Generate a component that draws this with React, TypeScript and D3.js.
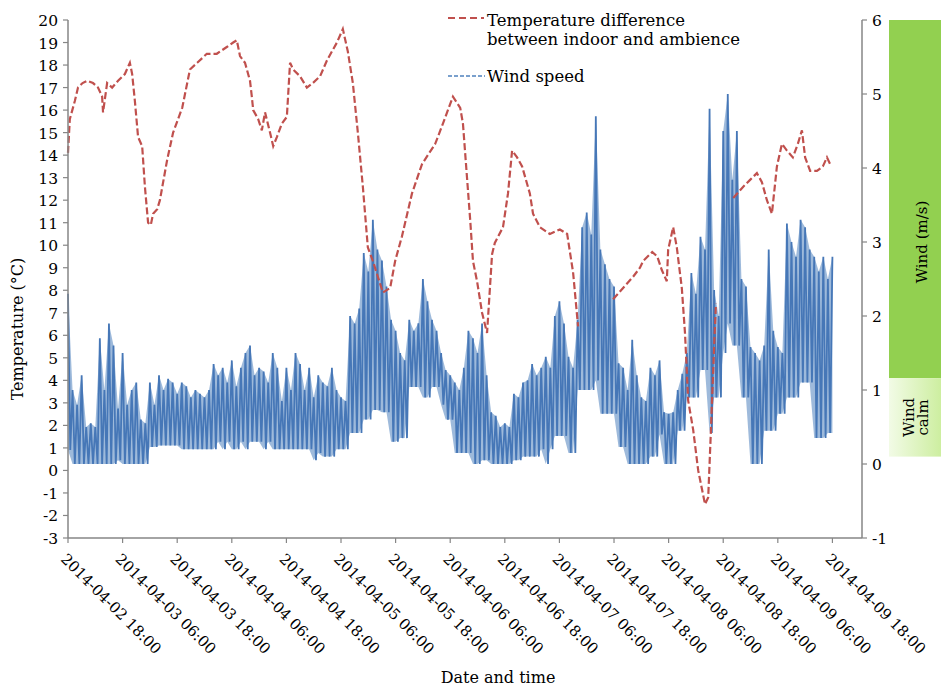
import React from 'react';
import * as d3 from 'd3';

// time origin of the record; every series below is keyed by hours after it
const START_LABEL = '2014-04-02 18:00';

const xTickLabels = [
  '2014-04-02 18:00', '2014-04-03 06:00', '2014-04-03 18:00', '2014-04-04 06:00',
  '2014-04-04 18:00', '2014-04-05 06:00', '2014-04-05 18:00', '2014-04-06 06:00',
  '2014-04-06 18:00', '2014-04-07 06:00', '2014-04-07 18:00', '2014-04-08 06:00',
  '2014-04-08 18:00', '2014-04-09 06:00', '2014-04-09 18:00',
];

const tempTicks = [-3, -2, -1, 0, 1, 2, 3, 4, 5, 6, 7, 8, 9, 10, 11, 12, 13, 14, 15, 16, 17, 18, 19, 20];
const windTicks = [-1, 0, 1, 2, 3, 4, 5, 6];

// [hours after start, indoor-ambient temperature difference °C]; NaN = no data
const tempDiff: [number, number][] = [
  [0, 14.1], [0.4, 15.6], [1.5, 16.4], [2.2, 17.0], [3.2, 17.2], [4.2, 17.3], [5.5, 17.2], [6.6, 17.0],
  [7.5, 16.6], [7.7, 15.9], [8.6, 17.2], [9.7, 17.0], [11.0, 17.3], [12.5, 17.6], [13.6, 18.1], [14.1, 17.6],
  [14.7, 16.4], [15.4, 14.8], [16.3, 14.4], [16.9, 12.6], [17.6, 11.0], [18.2, 10.9], [18.7, 11.4], [19.6, 11.6],
  [20.2, 12.0], [21.8, 13.8], [23.1, 15.0], [25.1, 16.1], [26.8, 17.8], [28.4, 18.1], [30.5, 18.5], [32.7, 18.5],
  [34.9, 18.8], [36.3, 19.0], [37.1, 19.1], [37.8, 18.4], [38.9, 18.1], [40.0, 17.3], [40.4, 16.6], [40.7, 16.0],
  [41.8, 15.6], [42.6, 15.1], [43.3, 15.9], [44.4, 15.0], [45.1, 14.4], [45.9, 14.8], [47.0, 15.4], [48.1, 15.7],
  [48.8, 18.1], [49.5, 17.8], [51.0, 17.5], [52.5, 17.0], [53.8, 17.2], [55.4, 17.5], [56.9, 18.2], [59.1, 19.0],
  [60.4, 19.6], [61.5, 18.6], [62.6, 17.2], [63.7, 15.0], [64.8, 12.6], [65.9, 9.9], [67.0, 9.3], [69.2, 7.9],
  [70.8, 8.1], [71.9, 9.3], [73.4, 10.4], [75.6, 12.3], [77.8, 13.6], [80.7, 14.5], [82.4, 15.4], [84.6, 16.6],
  [86.2, 16.1], [86.8, 15.4], [88.4, 11.1], [89.0, 9.3], [89.9, 8.4], [91.0, 7.0], [92.1, 6.1], [93.2, 9.6],
  [93.8, 10.1], [95.6, 10.8], [96.7, 12.3], [97.6, 14.2], [98.7, 13.9], [99.8, 13.5], [101.5, 12.3], [102.2, 11.4],
  [103.7, 10.8], [105.9, 10.5], [108.1, 10.7], [109.7, 10.5], [111.0, 8.8], [112.1, 6.4], [112.2, NaN],
  [119.8, 7.6], [122.0, 8.1], [124.2, 8.6], [125.7, 9.0], [126.4, 9.3], [128.4, 9.7], [129.5, 9.5], [130.5, 8.9],
  [131.6, 8.4], [131.9, 9.8], [133.0, 10.8], [133.8, 9.9], [134.9, 8.1], [135.6, 6.1], [136.3, 3.1], [137.4, 1.8],
  [138.5, 0.0], [140.0, -1.5], [140.7, -1.2], [141.3, 1.8], [142.0, 5.5], [142.4, 7.4], [142.5, NaN],
  [146.2, 12.1], [148.4, 12.6], [149.9, 12.9], [151.4, 13.2], [152.5, 12.8], [153.6, 12.0], [154.7, 11.4],
  [155.8, 13.5], [156.9, 14.5], [158.0, 14.2], [159.3, 13.9], [160.4, 14.5], [161.3, 15.1], [162.0, 13.9],
  [163.1, 13.3], [164.6, 13.3], [165.9, 13.5], [166.8, 13.9], [167.5, 13.6],
];

// hourly wind speed envelope (m/s), hour 0 .. 168
const windHigh = [
  2.3, 1.0, 0.8, 1.2, 0.5, 0.55, 0.5, 1.7, 1.0, 1.9, 1.6, 0.75,
  1.5, 0.8, 1.0, 1.1, 0.6, 0.55, 1.1, 0.8, 1.2, 1.0, 1.15, 1.1,
  0.95, 1.1, 1.05, 0.9, 1.0, 0.95, 0.9, 1.0, 1.35, 1.2, 1.3, 1.1,
  1.4, 1.05, 1.3, 1.5, 1.6, 1.2, 1.3, 1.25, 1.1, 1.5, 1.3, 0.85,
  1.3, 1.0, 1.5, 1.35, 1.0, 1.3, 0.9, 1.2, 1.1, 1.05, 1.3, 1.0,
  0.9, 0.85, 2.0, 1.9, 2.1, 2.85, 2.6, 3.3, 2.9, 2.75, 2.4, 1.95,
  1.8, 1.5, 1.4, 1.95, 1.8, 1.9, 2.5, 2.2, 1.95, 1.8, 1.5, 1.27,
  1.2, 1.1, 1.0, 1.3, 1.8, 1.7, 1.5, 1.9, 1.2, 0.7, 0.65, 0.5,
  0.55, 0.5, 0.95, 0.9, 1.1, 1.13, 1.35, 1.2, 1.3, 1.45, 1.3, 2.0,
  2.2, 1.9, 1.45, 1.3, 1.95, 3.2, 3.4, 3.1, 4.7, 2.9, 2.7, 2.5,
  2.4, 1.36, 1.3, 1.0, 1.68, 1.2, 0.9, 0.85, 1.3, 1.2, 1.4, 0.7,
  0.68, 0.7, 1.0, 1.22, 1.5, 2.58, 2.3, 3.07, 2.9, 4.8, 2.35, 2.0,
  4.5, 5.0, 3.84, 4.5, 2.5, 2.4, 1.58, 1.5, 1.4, 1.6, 2.9, 1.8,
  1.58, 1.5, 3.25, 3.0, 2.8, 3.3, 3.2, 2.9, 2.8, 2.6, 2.8, 2.5,
  2.8,
];

const windLow = [
  0.19, 0.0, 0.0, 0.0, 0.0, 0.0, 0.0, 0.0, 0.0, 0.0, 0.0, 0.05,
  0.0, 0.0, 0.0, 0.0, 0.0, 0.0, 0.23, 0.23, 0.25, 0.25, 0.25, 0.25,
  0.25, 0.2, 0.2, 0.2, 0.2, 0.2, 0.2, 0.2, 0.2, 0.3, 0.2, 0.3,
  0.2, 0.2, 0.3, 0.2, 0.3, 0.3, 0.3, 0.2, 0.3, 0.2, 0.2, 0.2,
  0.2, 0.2, 0.2, 0.2, 0.2, 0.2, 0.05, 0.15, 0.1, 0.1, 0.1, 0.2,
  0.2, 0.2, 0.42, 0.42, 0.42, 0.6, 0.6, 0.73, 0.73, 0.7, 0.7, 0.3,
  0.3, 0.35, 0.35, 1.04, 1.04, 1.04, 0.9, 0.9, 1.04, 1.04, 0.8, 0.6,
  0.6, 0.15, 0.15, 0.15, 0.15, 0.0, 0.0, 0.05, 0.05, 0.0, 0.0, 0.0,
  0.0, 0.0, 0.05, 0.05, 0.1, 0.1, 0.1, 0.1, 0.2, 0.0, 0.2, 0.38,
  0.38, 0.38, 0.15, 0.15, 1.0, 1.0, 1.0, 1.0, 1.13, 0.68, 0.68, 0.68,
  0.68, 0.23, 0.23, 0.0, 0.0, 0.0, 0.0, 0.0, 0.1, 0.1, 0.4, 0.0,
  0.0, 0.0, 0.45, 0.45, 0.9, 0.9, 0.9, 1.27, 1.27, 0.42, 0.9, 0.9,
  1.5, 1.9, 1.6, 1.6, 0.9, 0.9, 0.0, 0.0, 0.0, 0.45, 0.45, 0.45,
  0.68, 0.68, 0.9, 0.9, 0.9, 1.1, 1.1, 1.1, 0.35, 0.35, 0.35, 0.42,
  0.42,
];

// wind speed bands shown on the right (m/s)
const windBand = 1.16;
const windCalmFloor = 0.1;

const RED = '#C0504D';
const BLUE = '#4F81BD';
const AXIS = '#868686';
const FONT = '"DejaVu Serif", "Liberation Serif", serif';

const parse = d3.timeParse('%Y-%m-%d %H:%M');
const start = parse(START_LABEL) as Date;
const at = (h: number) => new Date(start.getTime() + h * 3600e3);

const W = 941;
const H = 690;
const left = 68;
const right = 862;
const top = 20;
const bottom = 538;

const App: React.FC = () => {
  const x = d3.scaleTime().domain([start, at(174.5)]).range([left, right]);
  const yT = d3.scaleLinear().domain([-3, 20]).range([bottom, top]);
  const yW = d3.scaleLinear().domain([-1, 6]).range([bottom, top]);

  const tempLine = d3.line<[number, number]>()
    .defined(d => !Number.isNaN(d[1]))
    .x(d => x(at(d[0])))
    .y(d => yT(d[1]));

  // envelope of the hourly wind record
  const windArea = d3.area<number>()
    .x((_d, i) => x(at(i)))
    .y0((_d, i) => yW(windLow[i]))
    .y1(d => yW(d));

  // trace swinging between the hourly highs and lows for texture
  const windPts: [number, number][] = [];
  windHigh.forEach((hi, i) => {
    windPts.push([i, hi]);
    if (i < windHigh.length - 1) windPts.push([i + 0.5, windLow[i]]);
  });
  const windLine = d3.line<[number, number]>()
    .x(d => x(at(d[0])))
    .y(d => yW(d[1]));

  const tickDates = xTickLabels.map(s => parse(s) as Date);
  const calmMid = (yW(windBand) + yW(windCalmFloor)) / 2;

  return (
    <svg width={W} height={H} style={{ position: 'absolute', left: 0, top: 0, background: '#fff', fontFamily: FONT, fontSize: 15.5 }}>
      <defs>
        <linearGradient id="calm" x1="0" x2="1" y1="0" y2="0">
          <stop offset="0" stopColor="#f2fbe6" />
          <stop offset="1" stopColor="#cdeea0" />
        </linearGradient>
      </defs>

      {/* wind bands on the right */}
      <rect x={889} y={yW(6)} width={W - 889} height={yW(windBand) - yW(6)} fill="#92D050" />
      <rect x={889} y={yW(windBand)} width={W - 889} height={yW(windCalmFloor) - yW(windBand)} fill="url(#calm)" />
      <text transform="translate(927,242) rotate(-90)" textAnchor="middle" fontSize={15}>Wind  (m/s)</text>
      <text transform={`translate(914,${calmMid}) rotate(-90)`} textAnchor="middle" fontSize={15}>Wind</text>
      <text transform={`translate(928,${calmMid}) rotate(-90)`} textAnchor="middle" fontSize={15}>calm</text>

      {/* series */}
      <path d={windArea(windHigh) || ''} fill={BLUE} fillOpacity={0.55} stroke="none" />
      <path d={windLine(windPts) || ''} fill="none" stroke="#4677b7" strokeWidth={1.8} />
      <path d={tempLine(tempDiff) || ''} fill="none" stroke={RED} strokeWidth={2.2} strokeDasharray="7,3" />

      {/* axes */}
      <line x1={left} x2={left} y1={top} y2={bottom} stroke={AXIS} strokeWidth={1.5} />
      <line x1={right} x2={right} y1={top} y2={bottom} stroke={AXIS} strokeWidth={1.5} />
      <line x1={left} x2={right} y1={bottom} y2={bottom} stroke={AXIS} strokeWidth={1.5} />

      {tempTicks.map(t => (
        <g key={`t${t}`}>
          <line x1={left - 5} x2={left} y1={yT(t)} y2={yT(t)} stroke={AXIS} strokeWidth={1.2} />
          <text x={left - 10} y={yT(t) + 6} textAnchor="end">{t}</text>
        </g>
      ))}
      {windTicks.map(t => (
        <g key={`w${t}`}>
          <line x1={right} x2={right + 5} y1={yW(t)} y2={yW(t)} stroke={AXIS} strokeWidth={1.2} />
          <text x={right + 10} y={yW(t) + 6} textAnchor="start">{t}</text>
        </g>
      ))}
      {tickDates.map((d, i) => {
        const px = x(d);
        return (
          <g key={`x${i}`}>
            <line x1={px} x2={px} y1={bottom} y2={bottom + 5} stroke={AXIS} strokeWidth={1.2} />
            <text transform={`translate(${px - 8},${bottom + 22}) rotate(45)`} fontSize={15}>{xTickLabels[i]}</text>
          </g>
        );
      })}

      <text transform={`translate(23,${(top + bottom) / 2 + 50}) rotate(-90)`} textAnchor="middle" fontSize={16}>Temperature (°C)</text>
      <text x={(left + right) / 2 + 33} y={683} textAnchor="middle" fontSize={16}>Date and time</text>

      {/* legend */}
      <g fontSize={16.5}>
        <line x1={448} x2={484} y1={18} y2={18} stroke={RED} strokeWidth={2} strokeDasharray="7,4" />
        <text x={487} y={26}>Temperature difference</text>
        <text x={487} y={45}>between indoor and ambience</text>
        <line x1={448} x2={485} y1={76} y2={76} stroke={BLUE} strokeWidth={1.5} strokeDasharray="4,2" />
        <text x={487} y={82}>Wind speed</text>
      </g>
    </svg>
  );
};

export default App;
